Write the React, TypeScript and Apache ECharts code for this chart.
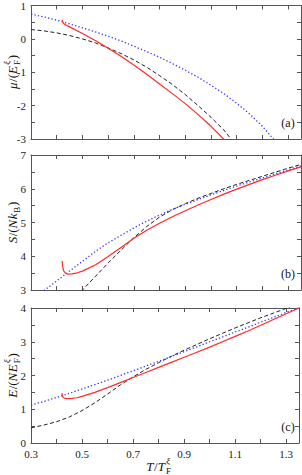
import React, { useEffect, useRef } from 'react';
import * as echarts from 'echarts';

// ---------- data ----------
const xTickLabels = ['0.3', '0.5', '0.7', '0.9', '1.1', '1.3'];
const yTickLabelsA = ['-3', '-2', '-1', '0', '1'];
const yTickLabelsB = ['3', '4', '5', '6', '7'];
const yTickLabelsC = ['0', '1', '2', '3', '4'];

// (a) chemical potential
const muBlackT = [0.30, 0.35, 0.40, 0.45, 0.50, 0.55, 0.60, 0.65, 0.70, 0.75, 0.80, 0.85, 0.90, 0.95, 1.00, 1.05, 1.08];
const muBlack = [0.28, 0.24, 0.18, 0.10, 0.00, -0.12, -0.27, -0.44, -0.63, -0.85, -1.10, -1.37, -1.67, -2.00, -2.35, -2.73, -3.02];
const muBlueT = [0.30, 0.35, 0.40, 0.45, 0.50, 0.55, 0.60, 0.65, 0.70, 0.75, 0.80, 0.85, 0.90, 0.95, 1.00, 1.05, 1.10, 1.15, 1.20, 1.245];
const muBlue = [0.74, 0.66, 0.56, 0.45, 0.33, 0.21, 0.08, -0.06, -0.22, -0.38, -0.55, -0.74, -0.94, -1.15, -1.39, -1.64, -1.93, -2.25, -2.62, -3.02];
const muRedT = [0.421, 0.424, 0.43, 0.45, 0.50, 0.55, 0.60, 0.65, 0.70, 0.75, 0.80, 0.85, 0.90, 0.95, 1.00, 1.052];
const muRed = [0.57, 0.49, 0.44, 0.36, 0.16, -0.05, -0.28, -0.52, -0.78, -1.06, -1.35, -1.64, -1.94, -2.27, -2.62, -3.02];

// (b) entropy
const sBlackT = [0.495, 0.55, 0.60, 0.65, 0.70, 0.75, 0.80, 0.85, 0.90, 0.95, 1.00, 1.05, 1.10, 1.15, 1.20, 1.25, 1.30, 1.35];
const sBlack = [2.96, 3.40, 3.80, 4.18, 4.55, 4.88, 5.16, 5.38, 5.56, 5.72, 5.86, 6.00, 6.13, 6.25, 6.37, 6.49, 6.61, 6.72];
const sBlueT = [0.35, 0.40, 0.45, 0.50, 0.55, 0.60, 0.65, 0.70, 0.75, 0.80, 0.85, 0.90, 0.95, 1.00, 1.05, 1.10, 1.15, 1.20, 1.25, 1.30, 1.35];
const sBlue = [2.98, 3.27, 3.56, 3.85, 4.14, 4.40, 4.62, 4.84, 5.04, 5.22, 5.39, 5.54, 5.68, 5.82, 5.95, 6.08, 6.20, 6.32, 6.44, 6.56, 6.68];
const sRedT = [0.421, 0.423, 0.427, 0.435, 0.445, 0.46, 0.48, 0.50, 0.55, 0.60, 0.65, 0.70, 0.75, 0.80, 0.85, 0.90, 0.95, 1.00, 1.05, 1.10, 1.15, 1.20, 1.25, 1.30, 1.35];
const sRed = [3.86, 3.70, 3.57, 3.49, 3.47, 3.48, 3.51, 3.56, 3.74, 3.99, 4.26, 4.53, 4.77, 4.98, 5.17, 5.35, 5.52, 5.68, 5.84, 5.99, 6.13, 6.27, 6.40, 6.53, 6.65];

// (c) energy
const eBlackT = [0.30, 0.35, 0.40, 0.45, 0.50, 0.55, 0.60, 0.65, 0.70, 0.75, 0.80, 0.85, 0.90, 0.95, 1.00, 1.05, 1.10, 1.15, 1.20, 1.25, 1.30, 1.315];
const eBlack = [0.45, 0.53, 0.63, 0.77, 0.96, 1.19, 1.45, 1.72, 1.96, 2.18, 2.38, 2.57, 2.75, 2.92, 3.09, 3.25, 3.41, 3.56, 3.71, 3.85, 3.99, 4.03];
const eBlueT = [0.30, 0.35, 0.40, 0.45, 0.50, 0.55, 0.60, 0.65, 0.70, 0.75, 0.80, 0.85, 0.90, 0.95, 1.00, 1.05, 1.10, 1.15, 1.20, 1.25, 1.30, 1.35];
const eBlue = [1.12, 1.23, 1.35, 1.47, 1.60, 1.73, 1.86, 2.00, 2.14, 2.28, 2.42, 2.56, 2.71, 2.85, 3.00, 3.14, 3.29, 3.43, 3.58, 3.72, 3.87, 4.01];
const eRedT = [0.421, 0.423, 0.43, 0.44, 0.46, 0.48, 0.50, 0.55, 0.60, 0.65, 0.70, 0.75, 0.80, 0.85, 0.90, 0.95, 1.00, 1.05, 1.10, 1.15, 1.20, 1.25, 1.30, 1.35];
const eRed = [1.48, 1.38, 1.33, 1.315, 1.32, 1.34, 1.38, 1.50, 1.64, 1.79, 1.94, 2.09, 2.24, 2.39, 2.54, 2.69, 2.84, 3.00, 3.16, 3.32, 3.49, 3.66, 3.83, 4.00];

const panelNames = ['(a)', '(b)', '(c)'];

// ---------- helpers ----------
const FONT = 'Liberation Serif';
const FRAME = '#555';
const RED = '#ff2a2a';
const BLUE = '#3636ff';
const BLACK = '#222';

const zip = (xs: number[], ys: number[]) => xs.map((x, i) => [x, ys[i]]);

let ctx: CanvasRenderingContext2D | null = null;
function measure(text: string, size: number, italic: boolean) {
  if (!ctx) ctx = document.createElement('canvas').getContext('2d');
  if (!ctx) return text.length * size * 0.5;
  ctx.font = `${italic ? 'italic ' : ''}${size}px "${FONT}"`;
  return ctx.measureText(text).width;
}

type Part = { t?: string; k: 'i' | 'r' | 'sub' | 'ss'; sub?: string; sup?: string };

function txt(x: number, y: number, text: string, size: number, italic: boolean) {
  return {
    type: 'text',
    x,
    y,
    style: {
      text,
      fontSize: size,
      fontFamily: FONT,
      fontStyle: italic ? 'italic' : 'normal',
      fill: '#111',
      align: 'left',
      verticalAlign: 'middle',
    },
  };
}

function buildLabel(parts: Part[], fs: number) {
  const small = Math.round(fs * 0.7);
  const children: any[] = [];
  let x = 0;
  for (const p of parts) {
    if (p.k === 'ss') {
      const w1 = measure(p.sub!, small, false);
      const w2 = measure(p.sup!, small, true);
      children.push(txt(x + 0.5, fs * 0.35, p.sub!, small, false));
      children.push(txt(x + 0.8, -fs * 0.42, p.sup!, small, true));
      x += Math.max(w1, w2) + 1.2;
    } else if (p.k === 'sub') {
      children.push(txt(x + 0.3, fs * 0.35, p.t!, small, false));
      x += measure(p.t!, small, false) + 1;
    } else {
      const it = p.k === 'i';
      children.push(txt(x, 0, p.t!, fs, it));
      x += measure(p.t!, fs, it) + (it ? 0.5 : 0);
    }
  }
  children.forEach((c) => (c.x -= x / 2));
  return children;
}

const grids = [
  { left: 31, width: 270, top: 5, height: 134 },
  { left: 31, width: 270, top: 155, height: 135 },
  { left: 31, width: 270, top: 308, height: 135 },
];
const yRanges = [
  [-3, 1],
  [3, 7],
  [0, 4],
];
const yLabelLists = [yTickLabelsA, yTickLabelsB, yTickLabelsC];

function xFormatter(v: number) {
  const s = v.toFixed(1);
  return Math.abs(v - parseFloat(s)) < 1e-6 && xTickLabels.includes(s) ? s : '';
}

export default function App() {
  const ref = useRef<HTMLDivElement>(null);
  useEffect(() => {
    const chart = echarts.init(ref.current!, null, { renderer: 'svg' });

    const xAxis: any[] = [];
    const yAxis: any[] = [];
    for (let i = 0; i < 3; i++) {
      for (const pos of ['bottom', 'top']) {
        xAxis.push({
          type: 'value',
          gridIndex: i,
          position: pos,
          min: 0.3,
          max: 1.35,
          interval: 0.1,
          axisLine: { show: true, onZero: false, lineStyle: { color: FRAME, width: 1 } },
          axisTick: { show: true, inside: true, length: 4, lineStyle: { color: FRAME, width: 1 } },
          axisLabel: {
            show: pos === 'bottom' && i === 2,
            formatter: xFormatter,
            fontFamily: FONT,
            fontSize: 11,
            color: '#222',
            margin: 5,
          },
          splitLine: { show: false },
        });
      }
      const list = yLabelLists[i];
      for (const pos of ['left', 'right']) {
        yAxis.push({
          type: 'value',
          gridIndex: i,
          position: pos,
          min: yRanges[i][0],
          max: yRanges[i][1],
          interval: 0.5,
          axisLine: { show: true, onZero: false, lineStyle: { color: FRAME, width: 1 } },
          axisTick: { show: true, inside: true, length: 4, lineStyle: { color: FRAME, width: 1 } },
          axisLabel: {
            show: pos === 'left',
            formatter: (v: number) => {
              const r = Math.round(v * 100) / 100;
              const s = String(r === 0 ? 0 : r);
              return list.includes(s) ? s : '';
            },
            fontFamily: FONT,
            fontSize: 11,
            color: '#222',
            margin: 5,
          },
          splitLine: { show: false },
        });
      }
    }

    const mk = (i: number, data: number[][], kind: 'black' | 'blue' | 'red') => ({
      type: 'line',
      xAxisIndex: 2 * i,
      yAxisIndex: 2 * i,
      data,
      showSymbol: false,
      symbol: 'none',
      clip: true,
      z: kind === 'red' ? 4 : 3,
      lineStyle:
        kind === 'black'
          ? { color: BLACK, width: 1, type: [4, 2.5] }
          : kind === 'blue'
          ? { color: BLUE, width: 1.3, type: [1.3, 2.2] }
          : { color: RED, width: 1.2, type: 'solid' },
    });

    const series = [
      mk(0, zip(muBlackT, muBlack), 'black'),
      mk(0, zip(muBlueT, muBlue), 'blue'),
      mk(0, zip(muRedT, muRed), 'red'),
      mk(1, zip(sBlackT, sBlack), 'black'),
      mk(1, zip(sBlueT, sBlue), 'blue'),
      mk(1, zip(sRedT, sRed), 'red'),
      mk(2, zip(eBlackT, eBlack), 'black'),
      mk(2, zip(eBlueT, eBlue), 'blue'),
      mk(2, zip(eRedT, eRed), 'red'),
    ];

    const fs = 13;
    const yLabelParts: Part[][] = [
      [{ t: 'μ', k: 'i' }, { t: '/(', k: 'r' }, { t: 'E', k: 'i' }, { k: 'ss', sub: 'F', sup: 'ξ' }, { t: ')', k: 'r' }],
      [{ t: 'S', k: 'i' }, { t: '/(', k: 'r' }, { t: 'N', k: 'i' }, { t: 'k', k: 'i' }, { t: 'B', k: 'sub' }, { t: ')', k: 'r' }],
      [{ t: 'E', k: 'i' }, { t: '/(', k: 'r' }, { t: 'N', k: 'i' }, { t: 'E', k: 'i' }, { k: 'ss', sub: 'F', sup: 'ξ' }, { t: ')', k: 'r' }],
    ];
    const xLabelParts: Part[] = [{ t: 'T', k: 'i' }, { t: '/', k: 'r' }, { t: 'T', k: 'i' }, { k: 'ss', sub: 'F', sup: 'ξ' }];

    const graphic: any[] = [];
    grids.forEach((g, i) => {
      graphic.push({
        type: 'group',
        x: 12,
        y: g.top + g.height / 2,
        rotation: Math.PI / 2,
        children: buildLabel(yLabelParts[i], fs),
      });
      graphic.push({
        type: 'text',
        x: 288,
        y: g.top + g.height - 16,
        style: {
          text: panelNames[i],
          fontSize: 12,
          fontFamily: FONT,
          fill: '#111',
          align: 'center',
          verticalAlign: 'middle',
        },
      });
    });
    graphic.push({ type: 'group', x: 159, y: 466, children: buildLabel(xLabelParts, fs) });

    chart.setOption({
      animation: false,
      backgroundColor: '#fff',
      grid: grids,
      xAxis,
      yAxis,
      series,
      graphic,
    });
    return () => chart.dispose();
  }, []);
  return <div ref={ref} style={{ position: 'fixed', left: 0, top: 0, width: 302, height: 475 }} />;
}
